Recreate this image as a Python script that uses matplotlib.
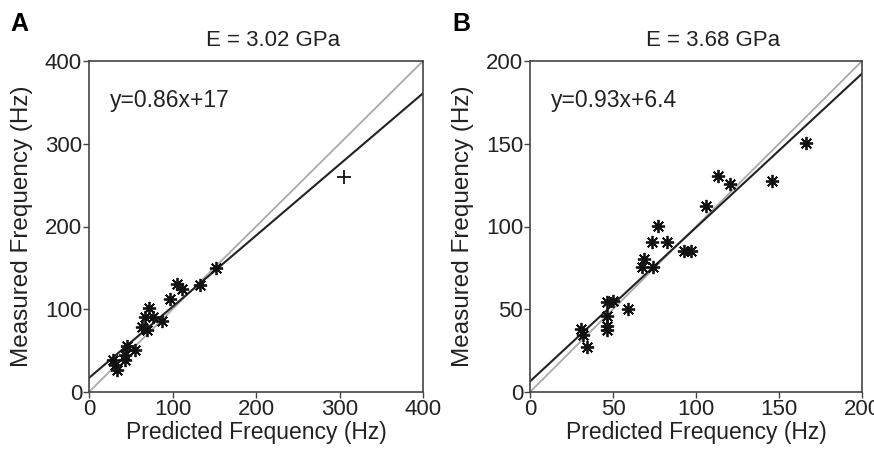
import matplotlib
matplotlib.use("Agg")
import matplotlib.pyplot as plt
import numpy as np

plt.rcParams['font.family'] = ['Liberation Sans', 'DejaVu Sans']

# Panel A data (Predicted vs Measured, Hz)
a_pred = [29, 31, 33, 43, 43, 45, 55, 63, 69, 67, 77, 72, 88, 97, 105, 111, 133, 152]
a_meas = [39, 33, 27, 39, 45, 55, 51, 79, 75, 91, 91, 101, 86, 112, 130, 125, 129, 150]
a_plus_pred = [305]
a_plus_meas = [260]
a_slope, a_icpt = 0.86, 17
a_title = "E = 3.02 GPa"
a_eq = "y=0.86x+17"
a_ticks = [0, 100, 200, 300, 400]

# Panel B data
b_pred = [30.5, 32.1, 34.5, 46.6, 46.6, 46.6, 46.2, 50.2, 58.8, 67.3, 74.3, 68.7,
          73.5, 82.7, 77.3, 92.8, 97, 105.8, 113.4, 120.5, 146, 166.3]
b_meas = [38.1, 34.4, 27.4, 37.5, 40.1, 46.1, 54.2, 55.2, 50.2, 75.3, 75.3, 80.4,
          90.4, 90.4, 100.5, 85.4, 85.4, 112.6, 130.7, 125.7, 127.5, 150.6]
b_slope, b_icpt = 0.93, 6.4
b_title = "E = 3.68 GPa"
b_eq = "y=0.93x+6.4"
b_ticks = [0, 50, 100, 150, 200]

W, H = 874, 451
fig = plt.figure(figsize=(W / 100, H / 100), dpi=100)

spine_c = '#444444'
text_c = '#222222'
star = (8, 2, 0)


def panel(rect, pred, meas, slope, icpt, title, eq, ticks, plus=None):
    ax = fig.add_axes(rect)
    axw = rect[2] * W
    axh = rect[3] * H
    lim = ticks[-1]
    xs = np.array([0, lim])
    ax.plot(xs, xs, color='#aaaaaa', lw=1.3, zorder=1)
    ax.plot(xs, slope * xs + icpt, color='#222222', lw=1.5, zorder=2)
    ax.plot(pred, meas, linestyle='none', marker=star, ms=9.5, mew=1.3,
            color='#111111', zorder=3)
    ax.plot(pred, meas, linestyle='none', marker='o', ms=3, color='#111111', zorder=3)
    if plus is not None:
        ax.plot(plus[0], plus[1], linestyle='none', marker='+', ms=10, mew=1.3,
                color='#111111', zorder=3)
    ax.set_xlim(0, lim)
    ax.set_ylim(0, lim)
    ax.set_xticks(ticks)
    ax.set_yticks(ticks)
    ax.tick_params(direction='out', length=4, width=1, colors=spine_c,
                   labelsize=16, labelcolor=text_c, pad=1)
    for s in ax.spines.values():
        s.set_color(spine_c)
        s.set_linewidth(1.2)
    ax.set_xlabel("Predicted Frequency (Hz)", fontsize=16.5, color=text_c)
    ax.xaxis.label.set_va('center')
    ax.xaxis.set_label_coords(0.5, -41 / axh)
    ax.set_ylabel("Measured Frequency (Hz)", fontsize=17.5, color=text_c)
    ax.yaxis.label.set_va('center')
    ax.yaxis.set_label_coords(-67 / axw, 0.5)
    ax.text(0.5 + 17 / axw, 1 + 21 / axh, title, transform=ax.transAxes,
            fontsize=16, color=text_c, ha='center', va='center')
    ax.text(21 / axw, 0.882, eq, transform=ax.transAxes, fontsize=16.5,
            color=text_c, va='center', ha='left')
    return ax


axA = panel([89 / W, 1 - 392 / H, 334 / W, 331 / H], a_pred, a_meas, a_slope, a_icpt,
            a_title, a_eq, a_ticks, plus=(a_plus_pred, a_plus_meas))
axB = panel([530 / W, 1 - 392 / H, 332 / W, 331 / H], b_pred, b_meas, b_slope, b_icpt,
            b_title, b_eq, b_ticks)

fig.text(10 / W, 1 - 24 / H, 'A', fontsize=18, fontweight='bold', va='center', ha='left')
fig.text(452 / W, 1 - 24 / H, 'B', fontsize=18, fontweight='bold', va='center', ha='left')

fig.savefig('out.png', dpi=100)
